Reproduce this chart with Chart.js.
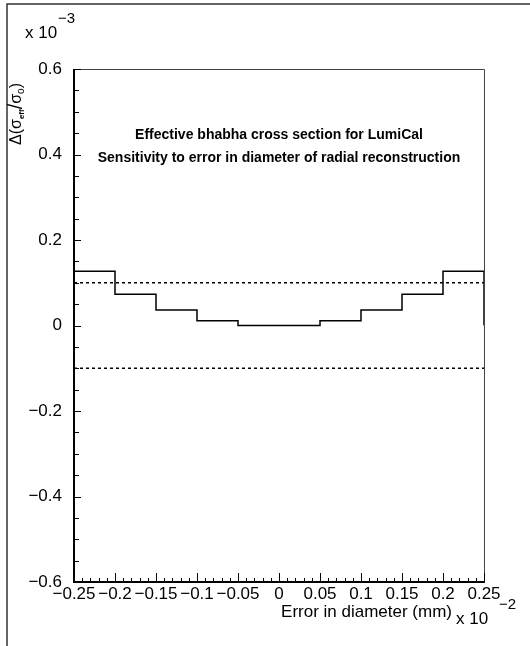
<!DOCTYPE html>
<html><head><meta charset="utf-8">
<script src="https://cdn.jsdelivr.net/npm/chart.js@4"></script>
<style>
html,body{margin:0;padding:0;background:#fff;}
#wrap{position:relative;width:530px;height:646px;}
canvas{display:block;}
</style></head><body>
<div id="wrap"><canvas id="c" width="530" height="646"></canvas></div>
<script>
// ---- data ----
const binEdges = [-0.25, -0.2, -0.15, -0.1, -0.05, 0, 0.05, 0.1, 0.15, 0.2, 0.25];
const deltaValues = [0.127, 0.073, 0.036, 0.011, 0.0, 0.0, 0.011, 0.036, 0.073, 0.127];
const limitLines = [0.1, -0.1];
const xTickValues = [-0.25, -0.2, -0.15, -0.1, -0.05, 0, 0.05, 0.1, 0.15, 0.2, 0.25];
const xTickLabels = ['\u22120.25', '\u22120.2', '\u22120.15', '\u22120.1', '\u22120.05', '0', '0.05', '0.1', '0.15', '0.2', '0.25'];
const yTickValues = [-0.6, -0.4, -0.2, 0, 0.2, 0.4, 0.6];
const yTickLabels = ['\u22120.6', '\u22120.4', '\u22120.2', '0', '0.2', '0.4', '0.6'];
const titleLines = ['Effective bhabha cross section for LumiCal', 'Sensitivity to error in diameter of radial reconstruction'];
const xAxisTitle = 'Error in diameter (mm)';
const xExponent = '\u22122';
const yExponent = '\u22123';

// histogram outline points built from bins
const histPoints = binEdges.slice(0, -1).map((x, i) => ({x: x, y: deltaValues[i]}));
histPoints.push({x: binEdges[binEdges.length - 1], y: deltaValues[deltaValues.length - 1]});
histPoints.push({x: binEdges[binEdges.length - 1], y: 0});

const FONT = "'Liberation Sans', Arial, sans-serif";

const limitSets = limitLines.map(v => ({
  data: [{x: binEdges[0], y: v}, {x: binEdges[binEdges.length - 1], y: v}],
  borderColor: '#000', borderWidth: 1.5, borderDash: [3, 3], pointRadius: 0, fill: false
}));

const decor = {
  id: 'decor',
  afterDatasetsDraw(chart) {
    const ctx = chart.ctx, a = chart.chartArea;
    const xs = chart.scales.x, ys = chart.scales.y;
    ctx.save();
    // page frame (top + left)
    ctx.strokeStyle = '#333'; ctx.lineWidth = 1.5;
    ctx.beginPath(); ctx.moveTo(7, 646); ctx.lineTo(7, 4); ctx.lineTo(530, 4); ctx.stroke();
    // plot frame
    ctx.strokeStyle = '#444'; ctx.lineWidth = 1;
    ctx.beginPath(); ctx.moveTo(a.left, a.top + 0.5); ctx.lineTo(a.right + 0.5, a.top + 0.5); ctx.lineTo(a.right + 0.5, a.bottom); ctx.stroke();
    ctx.strokeStyle = '#000'; ctx.lineWidth = 2;
    ctx.beginPath(); ctx.moveTo(a.left, a.top); ctx.lineTo(a.left, a.bottom); ctx.lineTo(a.right + 1, a.bottom); ctx.stroke();
    // tick marks
    ctx.lineWidth = 1;
    ctx.beginPath();
    for (let k = 0; k <= 50; k++) {
      const v = xs.min + k * (xs.max - xs.min) / 50;
      const px = Math.round(xs.getPixelForValue(v)) + 0.5;
      const len = (k % 5 === 0) ? 9 : 4;
      ctx.moveTo(px, a.bottom); ctx.lineTo(px, a.bottom - len);
    }
    for (let k = 0; k <= 24; k++) {
      const v = ys.min + k * (ys.max - ys.min) / 24;
      const py = Math.round(ys.getPixelForValue(v)) + 0.5;
      const len = (k % 4 === 0) ? 7 : 5;
      ctx.moveTo(a.left, py); ctx.lineTo(a.left + len, py);
    }
    ctx.stroke();
    // title
    ctx.fillStyle = '#000';
    ctx.font = 'bold 14px ' + FONT;
    ctx.textAlign = 'center'; ctx.textBaseline = 'alphabetic';
    const cx = (a.left + a.right) / 2;
    ctx.fillText(titleLines[0], cx, 139);
    ctx.fillText(titleLines[1], cx, 162);
    // x axis title
    ctx.font = '17px ' + FONT;
    ctx.textAlign = 'right';
    ctx.fillText(xAxisTitle, 452, 617);
    ctx.textAlign = 'left';
    ctx.fillText('x 10', 456, 624);
    ctx.font = '15px ' + FONT;
    ctx.fillText(xExponent, 499, 609);
    // y exponent
    ctx.font = '17px ' + FONT;
    ctx.fillText('x 10', 25, 38);
    ctx.font = '15px ' + FONT;
    ctx.fillText(yExponent, 58, 23);
    // y axis title (rotated)
    ctx.translate(21, 145);
    ctx.rotate(-Math.PI / 2);
    let x = 0;
    const part = (t, f, dy) => { ctx.font = f; ctx.fillText(t, x, dy); x += ctx.measureText(t).width; };
    part('\u0394(', '16px ' + FONT, 0);
    part('\u03c3', '16px ' + FONT, 0);
    part('eff', 'bold 8px ' + FONT, 3);
    part('/', '20px ' + FONT, 1);
    part('\u03c3', '16px ' + FONT, 0);
    part('o', '10px ' + FONT, 3);
    part(')', '16px ' + FONT, 0);
    ctx.restore();
  }
};

new Chart(document.getElementById('c'), {
  type: 'line',
  data: {
    datasets: [{
      data: histPoints, stepped: 'before', borderColor: '#000', borderWidth: 1.5,
      pointRadius: 0, fill: false
    }].concat(limitSets)
  },
  options: {
    responsive: false, animation: false,
    layout: {padding: {top: 69, right: 46, left: 0, bottom: 0}},
    plugins: {legend: {display: false}, tooltip: {enabled: false}},
    scales: {
      x: {
        type: 'linear', min: -0.25, max: 0.25,
        afterBuildTicks: s => { s.ticks = xTickValues.map(v => ({value: v})); },
        afterFit: s => { s.height = 64; },
        grid: {display: false, drawTicks: false}, border: {display: false},
        ticks: {
          autoSkip: false, maxRotation: 0, minRotation: 0, padding: 2, color: '#000',
          font: {family: FONT, size: 17},
          callback: (v) => { const i = xTickValues.findIndex(t => Math.abs(t - v) < 1e-9); return i >= 0 ? xTickLabels[i] : ''; }
        }
      },
      y: {
        type: 'linear', min: -0.6, max: 0.6,
        afterBuildTicks: s => { s.ticks = yTickValues.map(v => ({value: v})); },
        afterFit: s => { s.width = 74; },
        grid: {display: false, drawTicks: false}, border: {display: false},
        ticks: {
          padding: 12, color: '#000', font: {family: FONT, size: 17},
          callback: (v) => { const i = yTickValues.findIndex(t => Math.abs(t - v) < 1e-9); return i >= 0 ? yTickLabels[i] : ''; }
        }
      }
    }
  },
  plugins: [decor]
});
</script>
</body></html>
